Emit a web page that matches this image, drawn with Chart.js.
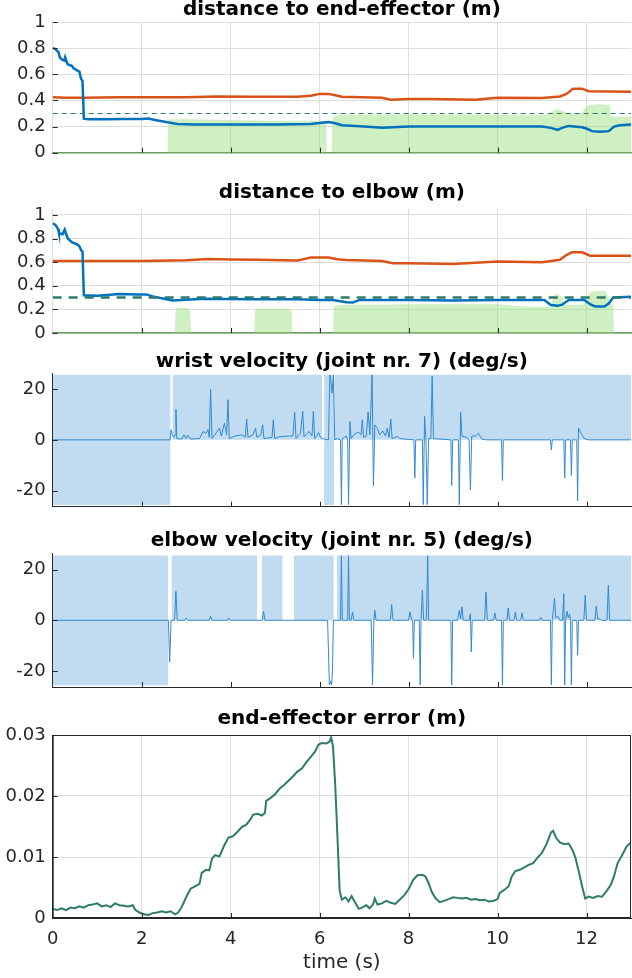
<!DOCTYPE html>
<html>
<head>
<meta charset="utf-8">
<script src="https://cdn.jsdelivr.net/npm/chart.js"></script>
<style>
  body { margin: 0; background: #fff; width: 632px; height: 978px; overflow: hidden; }
  canvas { position: absolute; left: 0; }
</style>
</head>
<body>
<canvas id="c1" width="632" height="160" style="top:0px"></canvas>
<canvas id="c2" width="632" height="180" style="top:160px"></canvas>
<canvas id="c3" width="632" height="180" style="top:340px"></canvas>
<canvas id="c4" width="632" height="180" style="top:520px"></canvas>
<canvas id="c5" width="632" height="278" style="top:700px"></canvas>
<script>
// ---- data: [time (s), value] ----
const timeTicks = [0, 2, 4, 6, 8, 10, 12];
const distTicks = [0, 0.2, 0.4, 0.6, 0.8, 1];
const velTicks = [-20, 0, 20];
const errTicks = [0, 0.01, 0.02, 0.03];
const safeDist = 0.3;
const velLimit = 25.6;

// distance to end-effector
const eeBlue = [[0,0.8],[0.05,0.795],[0.1,0.78],[0.13,0.77],[0.16,0.73],[0.22,0.71],[0.26,0.705],[0.28,0.73],[0.31,0.70],[0.34,0.675],[0.43,0.665],[0.47,0.645],[0.55,0.63],[0.6,0.62],[0.62,0.59],[0.64,0.565],[0.67,0.55],[0.7,0.26],[0.8,0.255],[1.2,0.255],[1.6,0.258],[2.0,0.258],[2.15,0.262],[2.3,0.25],[2.55,0.235],[2.8,0.22],[3.2,0.215],[4.0,0.215],[5.0,0.215],[5.8,0.22],[6.05,0.23],[6.2,0.235],[6.35,0.225],[6.5,0.21],[7.0,0.2],[7.4,0.19],[8.0,0.2],[9.0,0.2],[10.0,0.2],[11.0,0.2],[11.2,0.19],[11.35,0.175],[11.45,0.19],[11.6,0.205],[11.9,0.195],[12.0,0.185],[12.12,0.165],[12.3,0.16],[12.5,0.165],[12.62,0.2],[12.75,0.21],[13,0.215]];
const eeOrange = [[0,0.425],[0.3,0.42],[0.7,0.42],[1.5,0.425],[3.0,0.425],[3.7,0.43],[4.5,0.428],[5.5,0.428],[5.8,0.435],[6.0,0.45],[6.2,0.45],[6.35,0.44],[6.5,0.428],[7.4,0.42],[7.6,0.405],[8.0,0.41],[8.5,0.41],[9.5,0.405],[10.0,0.42],[11.0,0.418],[11.4,0.43],[11.55,0.45],[11.7,0.49],[11.9,0.49],[12.05,0.47],[13,0.467]];
const eeZone = [[0,0],[2.58,0],[2.6,0.255],[3.0,0.255],[4.0,0.25],[5.0,0.245],[6.0,0.245],[6.15,0.245],[6.16,0],[6.27,0],[6.29,0.26],[6.35,0.28],[6.45,0.29],[7.0,0.293],[8.0,0.295],[9.0,0.293],[10.0,0.293],[11.0,0.29],[11.1,0.29],[11.2,0.31],[11.35,0.335],[11.45,0.32],[11.6,0.30],[11.9,0.30],[11.97,0.345],[12.05,0.365],[12.3,0.37],[12.52,0.365],[12.55,0.275],[13,0.275]];

// distance to elbow
const elBlue = [[0,0.93],[0.06,0.915],[0.12,0.88],[0.14,0.845],[0.22,0.836],[0.27,0.875],[0.3,0.84],[0.34,0.80],[0.43,0.77],[0.55,0.75],[0.6,0.735],[0.64,0.70],[0.67,0.69],[0.7,0.32],[1.0,0.315],[1.5,0.33],[1.9,0.325],[2.1,0.327],[2.25,0.31],[2.5,0.29],[2.7,0.275],[3.4,0.29],[4.5,0.285],[5.5,0.285],[6.0,0.28],[6.3,0.28],[6.6,0.26],[6.75,0.258],[6.9,0.28],[8.0,0.28],[9.0,0.275],[10.0,0.28],[11.05,0.28],[11.2,0.237],[11.35,0.23],[11.45,0.24],[11.6,0.28],[11.95,0.28],[12.1,0.24],[12.2,0.225],[12.4,0.224],[12.5,0.25],[12.6,0.3],[13,0.307]];
const elOrange = [[0,0.61],[1.0,0.61],[2.0,0.61],[3.0,0.615],[3.5,0.627],[4.0,0.622],[4.6,0.62],[5.5,0.613],[5.8,0.64],[6.2,0.64],[6.4,0.625],[6.6,0.618],[7.4,0.61],[7.65,0.59],[8.0,0.59],[9.0,0.585],[10.0,0.605],[11.0,0.6],[11.4,0.62],[11.55,0.66],[11.67,0.683],[11.9,0.683],[12.08,0.655],[13,0.655]];
const elZone = [[0,0],[2.74,0],[2.76,0.19],[2.8,0.215],[3.05,0.21],[3.09,0.19],[3.11,0],[4.53,0],[4.55,0.19],[4.6,0.205],[5.3,0.205],[5.37,0.19],[5.39,0],[6.3,0],[6.32,0.22],[6.4,0.235],[6.55,0.24],[7.25,0.24],[8.0,0.243],[10.0,0.243],[10.7,0.222],[11.2,0.222],[11.25,0.3],[11.3,0.335],[11.45,0.31],[11.52,0.24],[11.9,0.24],[12.0,0.27],[12.08,0.345],[12.2,0.356],[12.42,0.356],[12.5,0.3],[12.55,0.25],[12.6,0.24],[12.62,0],[13,0]];

// allowed velocity regions: [start, end, lower bound]
const wristZones = [[0,2.65,-velLimit],[2.69,6.06,0],[6.1,6.33,-velLimit],[6.33,13,0]];
const elbowZones = [[0,2.6,-velLimit],[2.67,4.6,0],[4.7,5.17,0],[5.42,6.32,0],[6.39,13,0]];

const wristVel = [[0,0],[2.64,0],[2.66,4],[2.69,2],[2.72,1],[2.75,2],[2.77,12],[2.79,0.5],[2.9,0.3],[2.95,2],[3.0,0.5],[3.04,1.8],[3.1,0.3],[3.3,0.5],[3.38,3.3],[3.44,2.5],[3.49,4],[3.52,1],[3.55,20],[3.58,0.5],[3.75,4.6],[3.79,1.5],[3.86,6.6],[3.91,2],[3.94,15.8],[3.97,0.5],[4.1,1.5],[4.25,2],[4.33,1],[4.36,8.2],[4.39,1],[4.5,2],[4.56,4.6],[4.59,1],[4.68,2],[4.72,5.9],[4.75,0.5],[4.93,1],[4.96,7.9],[4.99,0.5],[5.1,1.2],[5.3,1.5],[5.4,1.5],[5.44,10.8],[5.47,0.5],[5.57,2.6],[5.62,11.2],[5.65,1.2],[5.76,3.3],[5.83,1.5],[5.86,11.2],[5.89,0.5],[5.98,2.8],[6.02,1],[6.05,0.5],[6.2,0],[6.23,25.5],[6.26,22.4],[6.28,18.4],[6.31,25.5],[6.34,0],[6.4,0.5],[6.47,0],[6.49,-25.5],[6.51,0.5],[6.6,1.5],[6.63,0],[6.65,-25.5],[6.68,7.2],[6.71,0.5],[6.8,2.5],[6.88,3],[6.93,2],[6.96,7.9],[6.99,1],[7.05,1.5],[7.09,11],[7.13,2],[7.18,25.5],[7.21,-18],[7.24,5.9],[7.3,4.5],[7.35,2],[7.42,3.5],[7.48,1.5],[7.52,4.6],[7.56,1],[7.6,8.2],[7.63,0.5],[7.75,1.3],[7.8,0.5],[8.12,0],[8.14,-15],[8.16,0],[8.31,0],[8.33,-25.5],[8.36,9.2],[8.39,0],[8.42,-25.5],[8.45,0.5],[8.5,0.5],[8.53,25],[8.56,0.5],[8.95,0],[8.97,-18],[8.99,0],[9.12,0],[9.14,-25.5],[9.17,10.8],[9.2,1.5],[9.3,1],[9.36,0],[9.39,-19.7],[9.42,1.5],[9.5,1.5],[9.57,2.6],[9.65,0.3],[9.75,0],[10.09,0],[10.11,-16],[10.13,0],[11.19,0],[11.21,-4],[11.23,0],[11.49,0],[11.51,-15],[11.53,0],[11.64,0],[11.66,-14],[11.68,0],[11.78,0],[11.8,-24],[11.82,4.6],[11.88,2.5],[11.95,0.5],[12.05,0],[13,0]];
const elbowVel = [[0,0],[2.6,0],[2.63,-16.4],[2.66,0],[2.74,0],[2.77,11.4],[2.8,0],[2.97,0],[3.0,0.9],[3.04,0],[3.52,0],[3.55,1.7],[3.58,0],[3.93,0],[3.96,0.9],[3.99,0],[4.71,0],[4.74,3.6],[4.77,0],[6.18,0],[6.22,-25.5],[6.25,-24],[6.27,-25.5],[6.29,-19.7],[6.31,0],[6.47,0],[6.49,25.5],[6.51,0],[6.63,0],[6.65,25.5],[6.67,0],[6.71,0],[6.74,3.3],[6.77,0],[7.16,0],[7.19,-25.5],[7.22,0],[7.24,3.9],[7.27,0],[7.59,0],[7.62,6.2],[7.65,0],[8.0,0],[8.03,3.3],[8.07,0],[8.09,0],[8.11,-15],[8.13,0],[8.24,0],[8.26,-25.5],[8.28,0],[8.31,11.8],[8.34,0],[8.4,0],[8.43,25.5],[8.45,0],[8.95,0],[8.97,-25.5],[8.99,0],[9.1,0],[9.14,3.9],[9.17,0.5],[9.2,5.3],[9.23,0],[9.36,0],[9.39,2.6],[9.41,-12.5],[9.43,0],[9.71,0],[9.74,11.2],[9.77,0],[9.91,0],[9.94,2.9],[9.97,0],[10.09,0],[10.11,-25.5],[10.13,0],[10.21,0],[10.24,4.9],[10.27,0],[10.37,0],[10.4,3.3],[10.43,0],[10.52,0],[10.55,3],[10.58,0],[10.94,0],[10.97,1.2],[11.0,0],[11.19,0],[11.21,-25.5],[11.23,0],[11.28,8.6],[11.31,1],[11.36,1.5],[11.4,0],[11.46,0],[11.49,10.5],[11.51,-25.5],[11.53,0],[11.56,3.6],[11.59,1],[11.62,2.5],[11.64,0],[11.66,-25.5],[11.68,0],[11.78,0],[11.8,-13.8],[11.82,0],[11.94,0],[11.97,9.9],[12.0,0],[12.19,0],[12.22,5.7],[12.25,0.5],[12.3,0.5],[12.33,0],[12.46,0],[12.49,13.8],[12.52,0],[13,0]];

// end-effector error
const eeError = [[0,0.0015],[0.1,0.0013],[0.2,0.0016],[0.3,0.0013],[0.4,0.0017],[0.5,0.0016],[0.6,0.0019],[0.7,0.0017],[0.8,0.0021],[0.9,0.0022],[1.0,0.0024],[1.1,0.0019],[1.2,0.0021],[1.3,0.0018],[1.4,0.0024],[1.5,0.0021],[1.6,0.002],[1.7,0.0019],[1.8,0.0021],[1.85,0.0014],[1.95,0.0009],[2.05,0.0006],[2.15,0.0005],[2.25,0.0008],[2.35,0.0009],[2.45,0.0011],[2.55,0.0009],[2.65,0.0011],[2.75,0.0006],[2.82,0.0009],[2.9,0.0018],[3.0,0.0034],[3.1,0.0048],[3.2,0.0052],[3.3,0.0056],[3.35,0.0074],[3.45,0.0079],[3.52,0.0078],[3.58,0.0097],[3.65,0.0103],[3.75,0.0101],[3.85,0.0118],[3.95,0.0132],[4.05,0.0134],[4.15,0.0141],[4.25,0.0149],[4.35,0.0153],[4.45,0.0162],[4.5,0.0169],[4.6,0.0171],[4.7,0.0168],[4.77,0.0172],[4.8,0.0192],[4.9,0.0197],[5.0,0.0203],[5.1,0.0212],[5.2,0.0218],[5.3,0.0225],[5.4,0.0232],[5.5,0.024],[5.6,0.0245],[5.7,0.0255],[5.8,0.0264],[5.9,0.0273],[5.97,0.0284],[6.05,0.0287],[6.15,0.0286],[6.22,0.0289],[6.26,0.0296],[6.3,0.0282],[6.35,0.022],[6.4,0.0135],[6.45,0.0045],[6.5,0.003],[6.58,0.0034],[6.65,0.0027],[6.72,0.0036],[6.8,0.0025],[6.88,0.0015],[6.95,0.0017],[7.05,0.0021],[7.12,0.0016],[7.2,0.0022],[7.24,0.0032],[7.3,0.0022],[7.4,0.0024],[7.5,0.0028],[7.6,0.0025],[7.7,0.0023],[7.8,0.003],[7.9,0.0037],[8.0,0.0047],[8.1,0.0062],[8.2,0.007],[8.3,0.0071],[8.38,0.0068],[8.45,0.0057],[8.52,0.0043],[8.6,0.0033],[8.7,0.0026],[8.8,0.0028],[8.9,0.0031],[9.0,0.0034],[9.1,0.0033],[9.2,0.0032],[9.3,0.0033],[9.4,0.003],[9.5,0.0031],[9.6,0.0029],[9.7,0.003],[9.8,0.0027],[9.9,0.0028],[10.0,0.0031],[10.05,0.0041],[10.15,0.0046],[10.25,0.0052],[10.32,0.0068],[10.4,0.0077],[10.5,0.0079],[10.6,0.0083],[10.7,0.0087],[10.8,0.009],[10.9,0.0099],[11.0,0.0107],[11.1,0.0121],[11.2,0.014],[11.25,0.0143],[11.32,0.0131],[11.4,0.0124],[11.5,0.0121],[11.6,0.0122],[11.68,0.0112],[11.75,0.0099],[11.82,0.0078],[11.9,0.0052],[11.97,0.0032],[12.05,0.0035],[12.15,0.0033],[12.25,0.0036],[12.35,0.0035],[12.45,0.0044],[12.55,0.0055],[12.62,0.0069],[12.7,0.009],[12.8,0.0103],[12.9,0.0117],[13,0.0124]];

// ---- styling ----
const FONT = '"DejaVu Sans", sans-serif';
const INK = '#262626';
const GRID = '#dedede';
const BLUE = '#0072bd';
const ORANGE = '#d95319';
const DASH = '#2e7a6c';
const ZONE_GREEN = 'rgba(140, 220, 110, 0.42)';
const ZONE_BLUE = '#c1dcf1';
const VEL_LINE = '#3389cf';
const ERR_LINE = '#2e7b6a';

const xy = pts => pts.map(([x, y]) => ({ x, y }));
const hline = v => [{ x: 0, y: v }, { x: 13, y: v }];

// inward tick marks and the closed box (MATLAB style axes)
const axesDecor = {
  id: 'axesDecor',
  afterDatasetsDraw(chart, args, opts) {
    const { ctx, chartArea: a, scales } = chart;
    ctx.save();
    ctx.strokeStyle = INK;
    ctx.lineWidth = 1;
    scales.x.ticks.forEach(t => {
      const px = Math.round(scales.x.getPixelForValue(t.value)) + 0.5;
      if (px <= a.left + 1) return;
      ctx.beginPath();
      ctx.moveTo(px, a.bottom);
      ctx.lineTo(px, a.bottom - 5);
      ctx.stroke();
    });
    scales.y.ticks.forEach(t => {
      const py = Math.round(scales.y.getPixelForValue(t.value)) + 0.5;
      ctx.beginPath();
      ctx.moveTo(a.left, py);
      ctx.lineTo(a.left + 5, py);
      ctx.stroke();
    });
    if (opts.box) {
      ctx.strokeRect(a.left + 0.5, a.top + 0.5, a.right - a.left - 1, a.bottom - a.top - 1);
    }
    ctx.restore();
  }
};

function panel(id, p) {
  return new Chart(document.getElementById(id), {
    type: 'line',
    data: { datasets: p.datasets },
    plugins: [axesDecor],
    options: {
      responsive: false,
      animation: false,
      events: [],
      layout: { padding: { left: 0, right: 1, top: 0, bottom: 0 } },
      elements: { point: { radius: 0 }, line: { tension: 0, fill: false } },
      plugins: {
        legend: { display: false },
        tooltip: { enabled: false },
        title: {
          display: true, text: p.title, color: '#000', fullSize: false,
          font: { family: FONT, size: 20, weight: 'bold', lineHeight: 1 },
          padding: p.titlePad
        },
        axesDecor: { box: !!p.box }
      },
      scales: {
        x: {
          type: 'linear', min: 0, max: 13,
          afterBuildTicks: s => { s.ticks = timeTicks.map(v => ({ value: v })); },
          afterFit: s => { s.height = p.xHeight; s.paddingLeft = 0; s.paddingRight = 0; },
          grid: { display: !!p.grid, color: GRID, drawTicks: false },
          border: { display: true, color: p.xBorder || INK, width: p.xBorderWidth || 1 },
          ticks: { display: !!p.xLabels, padding: 11, color: INK, font: { family: FONT, size: 18 } },
          title: p.xTitle
            ? { display: true, text: p.xTitle, color: INK, font: { family: FONT, size: 20, lineHeight: 1.2 }, padding: { top: 0, bottom: 3.6 } }
            : { display: false }
        },
        y: {
          type: 'linear', min: p.yMin, max: p.yMax,
          afterBuildTicks: s => { s.ticks = p.yTicks.map(v => ({ value: v })); },
          afterFit: s => { s.width = 52.7; s.paddingTop = 0; s.paddingBottom = 0; },
          grid: { display: !!p.grid, color: GRID, drawTicks: false },
          border: { display: !!p.yBorder, color: INK },
          ticks: { padding: 7, color: INK, font: { family: FONT, size: 18 }, callback: v => String(v) }
        }
      }
    }
  });
}

function zoneSets(zones) {
  return zones.map(([a, b, low]) => ({
    data: [{ x: a, y: velLimit }, { x: b, y: velLimit }],
    fill: { value: low }, backgroundColor: ZONE_BLUE, borderWidth: 0
  }));
}

panel('c1', {
  title: 'distance to end-effector (m)', titlePad: { top: 0, bottom: 2 },
  xHeight: 7.3, yMin: 0, yMax: 1, yTicks: distTicks, grid: true,
  xBorder: '#6a9c5f', xBorderWidth: 1.5,
  datasets: [
    { data: hline(safeDist), borderColor: DASH, borderWidth: 1, borderDash: [5, 4] },
    { data: xy(eeBlue), borderColor: BLUE, borderWidth: 2.5 },
    { data: xy(eeOrange), borderColor: ORANGE, borderWidth: 2.5 },
    { data: xy(eeZone), fill: 'origin', backgroundColor: ZONE_GREEN, borderWidth: 0 }
  ]
});

panel('c2', {
  title: 'distance to elbow (m)', titlePad: { top: 23, bottom: 6 },
  xHeight: 7, yMin: 0, yMax: 1.05, yTicks: distTicks, grid: true,
  xBorder: '#6a9c5f', xBorderWidth: 1.5,
  datasets: [
    { data: hline(safeDist), borderColor: DASH, borderWidth: 2.5, borderDash: [9, 7] },
    { data: xy(elBlue), borderColor: BLUE, borderWidth: 2.5 },
    { data: xy(elOrange), borderColor: ORANGE, borderWidth: 2.5 },
    { data: xy(elZone), fill: 'origin', backgroundColor: ZONE_GREEN, borderWidth: 0 }
  ]
});

panel('c3', {
  title: 'wrist velocity (joint nr. 7) (deg/s)', titlePad: { top: 12, bottom: 1 },
  xHeight: 13.3, yMin: -26.3, yMax: 26.3, yTicks: velTicks, yBorder: true,
  datasets: [
    { data: xy(wristVel), borderColor: VEL_LINE, borderWidth: 1, borderJoinStyle: 'bevel' },
    ...zoneSets(wristZones)
  ]
});

panel('c4', {
  title: 'elbow velocity (joint nr. 5) (deg/s)', titlePad: { top: 11, bottom: 2.6 },
  xHeight: 13, yMin: -26.3, yMax: 26.3, yTicks: velTicks, yBorder: true,
  datasets: [
    { data: xy(elbowVel), borderColor: VEL_LINE, borderWidth: 1, borderJoinStyle: 'bevel' },
    ...zoneSets(elbowZones)
  ]
});

panel('c5', {
  title: 'end-effector error (m)', titlePad: { top: 9, bottom: 6 },
  xHeight: 60, yMin: 0, yMax: 0.03, yTicks: errTicks, grid: true, yBorder: true,
  xLabels: true, xTitle: 'time (s)', box: true,
  datasets: [
    { data: xy(eeError), borderColor: ERR_LINE, borderWidth: 2 }
  ]
});
</script>
</body>
</html>
